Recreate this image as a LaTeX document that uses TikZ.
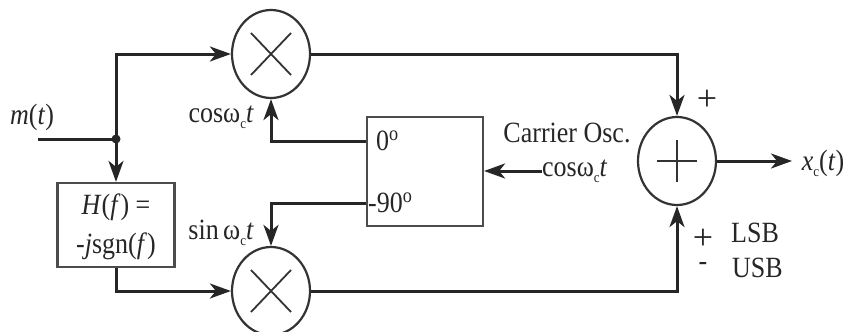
\documentclass[tikz,border=0pt]{standalone}
\usepackage{fontspec}
\setmainfont{Liberation Serif}
\usetikzlibrary{arrows.meta,shapes.geometric,calc}
\newcommand{\lowsub}[1]{\raisebox{-0.45ex}{\fontsize{13}{14}\selectfont #1}}
\tikzset{
  wire/.style={line width=3pt, draw=black!85},
  arr/.style={wire, -{Stealth[length=21pt,width=15pt,inset=6pt]}},
  thin/.style={line width=1.8pt, draw=black!80},
  lab/.style={inner sep=0pt, font=\fontsize{26}{30}\selectfont, yscale=1.13, text=black!85},
  sgn/.style={inner sep=0pt, font=\fontsize{36}{36}\selectfont, text=black!85, text height=20pt, text depth=0pt},
  dsh/.style={inner sep=0pt, font=\fontsize{26}{30}\selectfont, yscale=1.13, text=black!85, text height=12pt, text depth=0pt},
  mult/.style={ellipse, minimum width=78pt, minimum height=88pt, inner sep=0pt, line width=2.2pt, draw=black!80},
  blk/.style={rectangle, line width=2.2pt, draw=black!70, inner sep=0pt}
}
\begin{document}
\begin{tikzpicture}[x=1pt,y=-1pt]
\useasboundingbox (0,0) rectangle (849,332);
% multipliers and summer
\node[mult] (m1) at (271,54) {};
\node[mult] (m2) at (271,291) {};
\node[mult] (sum) at (677,161) {};
\draw[thin] ($(m1)+(-20,-21)$) -- ($(m1)+(20,21)$) ($(m1)+(20,-21)$) -- ($(m1)+(-20,21)$);
\draw[thin] ($(m2)+(-20,-21)$) -- ($(m2)+(20,21)$) ($(m2)+(20,-21)$) -- ($(m2)+(-20,21)$);
\draw[thin] ($(sum)+(-20,0)$) -- ($(sum)+(20,0)$) ($(sum)+(0,-21)$) -- ($(sum)+(0,21)$);
% blocks
\node[blk, minimum width=117pt, minimum height=84pt] (H) at (116,225) {};
\node[lab] (h1) at (116,207) {\textit{H}(\textit{f}) =};
\node[lab] (h2) at (116,246) {-\textit{j}sgn(\textit{f})};
\node[blk, minimum width=116pt, minimum height=109pt] (osc) at (425,171.5) {};
\node[lab, anchor=west] (d0) at (376,141) {0$^{\rm o}$};
\node[lab, anchor=west] (d90) at (368,203) {-90$^{\rm o}$};
% input
\coordinate (in) at (38,139);
\coordinate (jn) at (116,139);
\node[lab] (mt) at (32,117) {\textit{m}(\textit{t})};
\draw[wire] (in) -- (jn);
\fill[black!85] (jn) circle (4.5pt);
\draw[arr] (jn) |- (m1.west);
\draw[arr] (jn) -- (H.north);
\draw[arr] (H.south) |- (m2.west);
% oscillator outputs
\coordinate (o0) at (osc.west |- d0);
\coordinate (o90) at (osc.west |- d90);
\draw[arr] (o0) -| (m1.south);
\draw[arr] (o90) -| (m2.north);
\node[lab, anchor=east] (cl) at (254,117) {cosω\lowsub{c}\textit{t}};
\node[lab, anchor=east] (sl) at (254,233) {sin\,ω\lowsub{c}\textit{t}};
% carrier input
\node[lab] (co) at (567,133) {Carrier Osc.};
\node[lab, anchor=west] (ci) at (542,171) {cosω\lowsub{c}\textit{t}};
\draw[arr] (ci.west) -- (osc.east |- ci.west);
% to summer
\draw[arr] (m1.east) -| (sum.north);
\draw[arr] (m2.east) -| (sum.south);
\node[sgn] (p1) at (707,100) {+};
\node[sgn] (p2) at (703,239) {+};
\node[dsh] (mn) at (703,264) {-};
\node[lab, anchor=west] (lsb) at (731,233) {LSB};
\node[lab, anchor=west] (usb) at (732,268) {USB};
% output
\coordinate (out) at (792,161);
\draw[arr] (sum.east) -- (out);
\node[lab] (xc) at (823,163) {\textit{x}\lowsub{c}(\textit{t})};
\end{tikzpicture}
\end{document}
